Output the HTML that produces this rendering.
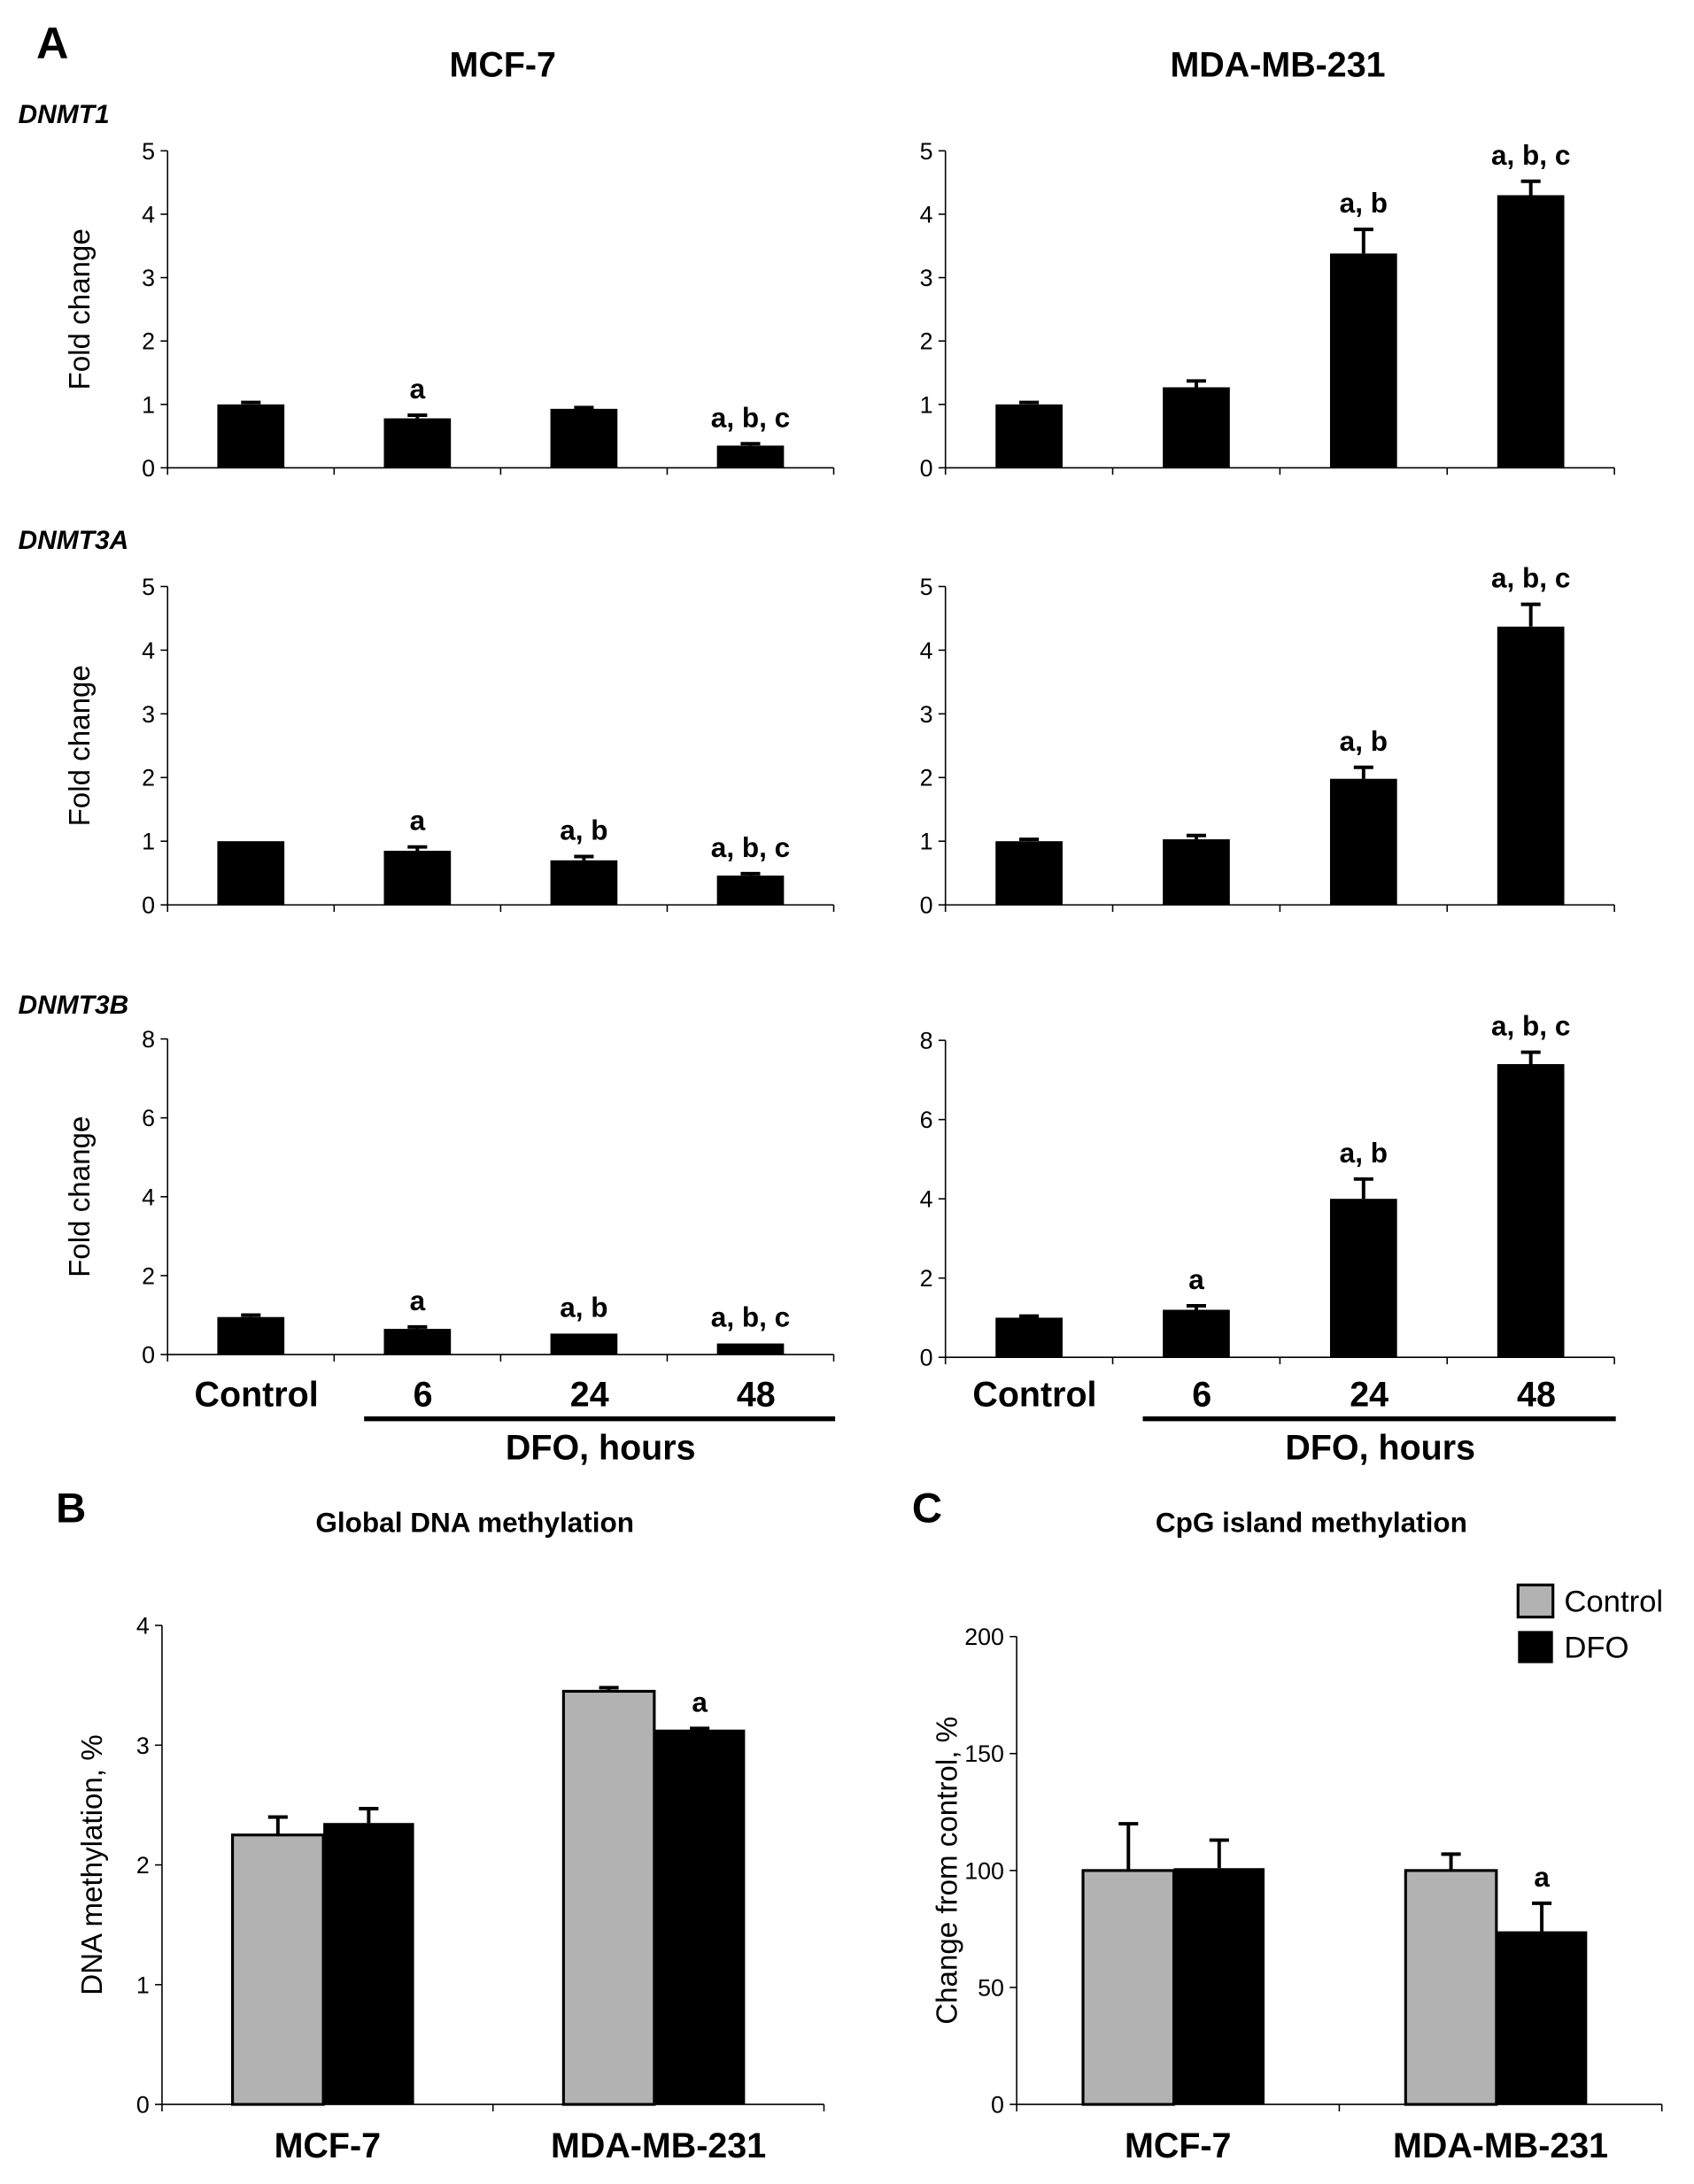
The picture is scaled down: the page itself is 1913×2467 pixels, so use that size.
<!DOCTYPE html>
<html><head><meta charset="utf-8"><style>
html,body{margin:0;padding:0;background:#fff}
svg{display:block}
text{font-family:"Liberation Sans",Arial,sans-serif}
</style></head><body>
<svg id="fig" width="1913" height="2467" viewBox="0 0 1213 1564" preserveAspectRatio="none" xmlns="http://www.w3.org/2000/svg">
<text x="26" y="42" font-size="32" font-weight="bold">A</text>
<text x="360" y="55" font-size="25" font-weight="bold" text-anchor="middle">MCF-7</text>
<text x="915" y="55" font-size="25" font-weight="bold" text-anchor="middle">MDA-MB-231</text>
<text x="13" y="88" font-size="19" font-weight="bold" font-style="italic">DNMT1</text>
<text x="13" y="393" font-size="19" font-weight="bold" font-style="italic">DNMT3A</text>
<text x="13" y="726" font-size="19" font-weight="bold" font-style="italic">DNMT3B</text>
<text x="40" y="1090" font-size="30" font-weight="bold">B</text>
<text x="340" y="1097" font-size="20" font-weight="bold" text-anchor="middle">Global DNA methylation</text>
<text x="653" y="1090" font-size="30" font-weight="bold">C</text>
<text x="939" y="1097" font-size="20" font-weight="bold" text-anchor="middle">CpG island methylation</text>
<g id="plots"></g>
</svg>
<script>
// Panel A data
const aCategories = ["Control","6","24","48"];
const mcf7Dnmt1 = [1.0,0.78,0.93,0.35];
const mcf7Dnmt1Err = [0.03,0.05,0.02,0.03];
const mcf7Dnmt1Sig = ["","a","","a, b, c"];
const mdaDnmt1 = [1.0,1.27,3.38,4.3];
const mdaDnmt1Err = [0.03,0.1,0.38,0.22];
const mdaDnmt1Sig = ["","","a, b","a, b, c"];
const mcf7Dnmt3a = [1.0,0.85,0.7,0.46];
const mcf7Dnmt3aErr = [0.0,0.06,0.06,0.03];
const mcf7Dnmt3aSig = ["","a","a, b","a, b, c"];
const mdaDnmt3a = [1.0,1.03,1.98,4.37];
const mdaDnmt3aErr = [0.03,0.06,0.18,0.35];
const mdaDnmt3aSig = ["","","a, b","a, b, c"];
const mcf7Dnmt3b = [0.95,0.65,0.53,0.28];
const mcf7Dnmt3bErr = [0.05,0.05,0.0,0.0];
const mcf7Dnmt3bSig = ["","a","a, b","a, b, c"];
const mdaDnmt3b = [1.0,1.2,4.0,7.4];
const mdaDnmt3bErr = [0.04,0.1,0.5,0.3];
const mdaDnmt3bSig = ["","a","a, b","a, b, c"];
const ticks5 = [0,1,2,3,4,5];
const ticks8 = [0,2,4,6,8];
// Panel B/C data
const groupCategories = ["MCF-7","MDA-MB-231"];
const globalControl = [2.25,3.45];
const globalControlErr = [0.15,0.03];
const globalDfo = [2.35,3.13];
const globalDfoErr = [0.12,0.01];
const globalSig = ["","a"];
const globalTicks = [0,1,2,3,4];
const cpgControl = [100,100];
const cpgControlErr = [20,7];
const cpgDfo = [101,74];
const cpgDfoErr = [12,12];
const cpgSig = ["","a"];
const cpgTicks = [0,50,100,150,200];

const NS="http://www.w3.org/2000/svg";
const root=document.getElementById('plots');
function mk(tag,attrs,parent,txt){const e=document.createElementNS(NS,tag);for(const k in attrs)e.setAttribute(k,attrs[k]);if(txt!==undefined)e.textContent=txt;(parent||root).appendChild(e);return e;}

function axes(g,x0,x1,yTop,yBot,ymax,ticks,ncat){
  const ys=v=>yBot-(v/ymax)*(yBot-yTop);
  let l=mk('line',{x1:x0,y1:yTop,x2:x0,y2:yBot,stroke:'#000','stroke-width':1},g);
  
  
  l=mk('line',{x1:x0,y1:yBot,x2:x1,y2:yBot,stroke:'#000','stroke-width':1},g);
  
  
  ticks.forEach(t=>{
    const y=ys(t);
    const tk=mk('line',{x1:x0-5,y1:y,x2:x0,y2:y,stroke:'#000'},g);
    
    
    const tl=mk('text',{x:x0-9,y:y+6,'font-size':17,'text-anchor':'end'},g,String(t));
    
    
  });
  for(let i=0;i<=ncat;i++){
    const x=x0+(x1-x0)*i/ncat;
    const tk=mk('line',{x1:x,y1:yBot,x2:x,y2:yBot+5,stroke:'#000'},g);
    
    
  }
  return ys;
}
function errBar(g,cx,yv,ye){
  const p=mk('path',{d:`M${cx},${yv}V${ye}M${cx-7},${ye}H${cx+7}`,stroke:'#000','stroke-width':2.5,fill:'none'},g);
  
  
}
function panelA(x0,x1,yTop,yBot,ymax,ticks,vals,errs,sigs,name,ytitle){
  const g=mk('g',{});
  
  
  const ys=axes(g,x0,x1,yTop,yBot,ymax,ticks,vals.length);
  const cw=(x1-x0)/vals.length;
  vals.forEach((v,i)=>{
    const cx=x0+cw*(i+0.5);
    const y=ys(v);
    if(errs[i]>0) errBar(g,cx,y,ys(v+errs[i]));
    const r=mk('rect',{x:cx-24,y:y,width:48,height:yBot-y,fill:'#000'},g);
    
    
    if(sigs[i]){
      const t=mk('text',{x:cx,y:ys(v+errs[i])-12,'font-size':20,'font-weight':'bold','text-anchor':'middle'},g,sigs[i]);
      
      
    }
  });
  if(ytitle){
    const yc=(yTop+yBot)/2;
    const t=mk('text',{x:0,y:0,'font-size':21,'text-anchor':'middle',transform:`translate(64,${yc}) rotate(-90)`},g,'Fold change');
    
    
  }
  return g;
}
panelA(120,597,108,335,5,ticks5,mcf7Dnmt1,mcf7Dnmt1Err,mcf7Dnmt1Sig,'mcf7-dnmt1-chart',true);
panelA(677,1156,108,335,5,ticks5,mdaDnmt1,mdaDnmt1Err,mdaDnmt1Sig,'mda-dnmt1-chart',false);
panelA(120,597,420,648,5,ticks5,mcf7Dnmt3a,mcf7Dnmt3aErr,mcf7Dnmt3aSig,'mcf7-dnmt3a-chart',true);
panelA(677,1156,420,648,5,ticks5,mdaDnmt3a,mdaDnmt3aErr,mdaDnmt3aSig,'mda-dnmt3a-chart',false);
panelA(120,597,744,970,8,ticks8,mcf7Dnmt3b,mcf7Dnmt3bErr,mcf7Dnmt3bSig,'mcf7-dnmt3b-chart',true);
panelA(677,1156,745,972,8,ticks8,mdaDnmt3b,mdaDnmt3bErr,mdaDnmt3bSig,'mda-dnmt3b-chart',false);

// category labels for panel A
[[120,597,'mcf7'],[677,1156,'mda']].forEach(([x0,x1,n])=>{
  const cw=(x1-x0)/4;
  aCategories.forEach((c,i)=>{
    const t=mk('text',{x:x0+cw*(i+0.5)+4,y:1007,'font-size':25,'font-weight':'bold','text-anchor':'middle'},root,c);
    
    
  });
  const l=mk('line',{x1:x0+cw*1.18,y1:1016,x2:x1+1,y2:1016,stroke:'#000','stroke-width':3.5});
  
  
  const t=mk('text',{x:x0+cw*2.6,y:1045,'font-size':25,'font-weight':'bold','text-anchor':'middle'},root,'DFO, hours');
  
  
});

function panelGroup(x0,x1,yTop,yBot,ymax,ticks,cv,ce,dv,de,sig,name,ytitle){
  const g=mk('g',{});
  
  
  const ys=axes(g,x0,x1,yTop,yBot,ymax,ticks,2);
  const cw=(x1-x0)/2;
  const bw=65;
  groupCategories.forEach((c,i)=>{
    const gc=x0+cw*(i+0.5)-3;
    let y=ys(cv[i]);
    errBar(g,gc-bw/2,y,ys(cv[i]+ce[i]));
    let r=mk('rect',{x:gc-bw,y:y,width:bw,height:yBot-y,fill:'#b2b2b2',stroke:'#000','stroke-width':2},g);
    
    
    y=ys(dv[i]);
    errBar(g,gc+bw/2,y,ys(dv[i]+de[i]));
    r=mk('rect',{x:gc,y:y,width:bw,height:yBot-y,fill:'#000'},g);
    
    
    if(sig[i]){
      const t=mk('text',{x:gc+bw/2,y:ys(dv[i]+de[i])-12,'font-size':20,'font-weight':'bold','text-anchor':'middle'},g,sig[i]);
      
      
    }
    const t=mk('text',{x:gc+3,y:1545,'font-size':25,'font-weight':'bold','text-anchor':'middle'},g,c);
    
    
  });
  const yc=(yTop+yBot)/2;
  const t=mk('text',{x:0,y:0,'font-size':21,'text-anchor':'middle',transform:`translate(${x0-43},${yc}) rotate(-90)`},g,ytitle);
  
  
}
panelGroup(116,590,1164,1507,4,globalTicks,globalControl,globalControlErr,globalDfo,globalDfoErr,globalSig,'global-methylation-chart','DNA methylation, %');
panelGroup(728,1190,1172,1507,200,cpgTicks,cpgControl,cpgControlErr,cpgDfo,cpgDfoErr,cpgSig,'cpg-methylation-chart','Change from control, %');

// legend
const lg=mk('g',{});


let e=mk('rect',{x:1087,y:1135,width:25,height:23,fill:'#b2b2b2',stroke:'#000','stroke-width':2},lg);


e=mk('text',{x:1120,y:1154,'font-size':22},lg,'Control');


e=mk('rect',{x:1087,y:1168,width:25,height:23,fill:'#000'},lg);


e=mk('text',{x:1120,y:1187,'font-size':22},lg,'DFO');


</script>
</body></html>
